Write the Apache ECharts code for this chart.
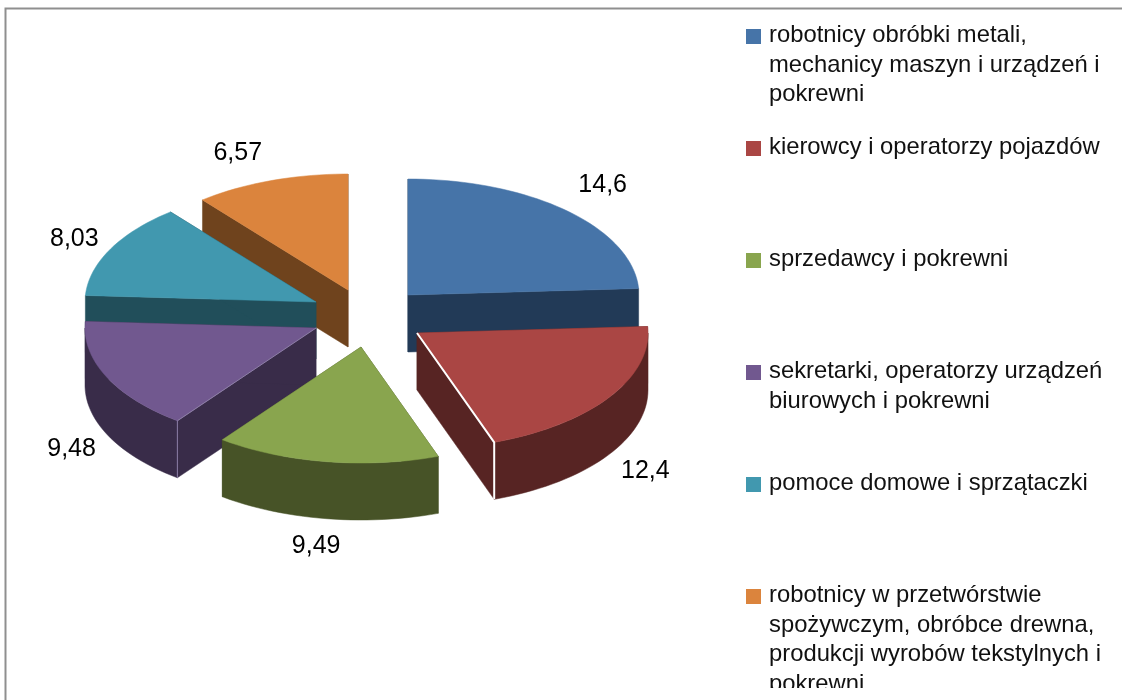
<!DOCTYPE html>
<html>
<head>
<meta charset="utf-8">
<style>
  html, body { margin: 0; padding: 0; background: #fff; }
  #chart { width: 1122px; height: 700px; }
</style>
<script src="https://cdn.jsdelivr.net/npm/echarts@6/dist/echarts.min.js"></script>
</head>
<body>
<div id="chart"></div>
<script>
const categories = [
  'robotnicy obróbki metali,\nmechanicy maszyn i urządzeń i\npokrewni',
  'kierowcy i operatorzy pojazdów',
  'sprzedawcy i pokrewni',
  'sekretarki, operatorzy urządzeń\nbiurowych i pokrewni',
  'pomoce domowe i sprzątaczki',
  'robotnicy w przetwórstwie\nspożywczym, obróbce drewna,\nprodukcji wyrobów tekstylnych i\npokrewni'
]
const values = [14.6, 12.4, 9.49, 9.48, 8.03, 6.57]

// top face and wall colours per slice
const topColors = ['#4674a8', '#aa4644', '#89a54e', '#71588f', '#4198af', '#db843d']
const wallColors = ['#223a57', '#572423', '#475327', '#392c49', '#214e5a', '#6f431d']

// ECharts has no 3D pie, so the tilted slices are drawn by custom series.
// Layout of the tilt and the explosion, in page pixels
const RX = 231
const RY = 116
const DEPTH = 57
const apexes = [[408, 295], [417, 333], [361, 347], [316, 328], [316, 302], [348, 290]]
const labelShift = [[36, -26], [36, 17], [-10, 27], [-35, 15], [-36, -10], [-33, -28]]
const drawOrder = [0, 5, 4, 3, 1, 2] // back to front
// thin light edge on the front corner of two slices: colour, width, which edge
const seams = [null, ['#ffffff', 2, 'end'], null, ['#8d7ea6', 1, 'start'], null, null]

const LINE = 29.5
const LEGEND_TOP = 21
const LEGEND_STEP = 112

const total = values.reduce((a, b) => a + b, 0)
const startOf = i => values.slice(0, i).reduce((a, b) => a + b, 0) / total * 360

const rimPoint = (apex, deg, drop) => {
  const r = deg * Math.PI / 180
  return [apex[0] + RX * Math.sin(r), apex[1] - RY * Math.cos(r) + drop]
}

const arcPoints = (apex, from, to, drop) => {
  const pts = []
  for (let a = from; a < to; a += 2) pts.push(rimPoint(apex, a, drop))
  pts.push(rimPoint(apex, to, drop))
  return pts
}

const poly = (points, fill) => ({
  type: 'polygon',
  shape: { points },
  style: { fill, stroke: fill, lineWidth: 0.5 }
})

const wall = (apex, deg, fill) => {
  const p = rimPoint(apex, deg, 0)
  return poly([apex, p, [p[0], p[1] + DEPTH], [apex[0], apex[1] + DEPTH]], fill)
}

const renderSlice = i => (params, api) => {
  const apex = apexes[i]
  const from = startOf(i)
  const to = from + api.value(0) / total * 360
  const children = [wall(apex, from, wallColors[i]), wall(apex, to, wallColors[i])]

  // outer rim only shows on the front half
  const rimFrom = Math.max(from, 90)
  const rimTo = Math.min(to, 270)
  if (rimFrom < rimTo) {
    const upper = arcPoints(apex, rimFrom, rimTo, 0)
    const lower = arcPoints(apex, rimFrom, rimTo, DEPTH).reverse()
    children.push(poly(upper.concat(lower), wallColors[i]))
  }

  children.push(poly([apex].concat(arcPoints(apex, from, to, 0)), topColors[i]))

  if (seams[i]) {
    const corner = rimPoint(apex, seams[i][2] === 'end' ? to : from, 0)
    children.push({
      type: 'polyline',
      shape: { points: [apex, corner, [corner[0], corner[1] + DEPTH]] },
      style: { fill: 'none', stroke: seams[i][0], lineWidth: seams[i][1] }
    })
  }

  const mid = (from + to) / 2
  const onFront = mid > 90 && mid < 270
  const anchor = rimPoint(apex, mid, onFront ? DEPTH : 0)
  children.push({
    type: 'text',
    x: anchor[0] + labelShift[i][0],
    y: anchor[1] + labelShift[i][1],
    style: {
      text: String(api.value(0)).replace('.', ','),
      font: '25px "Liberation Sans", Arial, sans-serif',
      fill: '#000',
      align: 'center',
      verticalAlign: 'middle'
    }
  })
  return { type: 'group', children }
}

// legend icon sits on the first text line, so its path is as tall as the text block
const legendFor = (name, i) => {
  const h = name.split('\n').length * LINE
  return {
    data: [name],
    left: 746,
    top: LEGEND_TOP + i * LEGEND_STEP,
    padding: 0,
    itemWidth: 15,
    itemHeight: h,
    itemGap: 0,
    selectedMode: false,
    icon: `path://M0 0h15M0 8h15v15h-15zM0 ${h}h15`,
    textStyle: {
      color: '#111',
      fontFamily: '"Liberation Sans", Arial, sans-serif',
      fontSize: 23.8,
      lineHeight: LINE,
      padding: [0, 0, 0, 3]
    }
  }
}

const chart = echarts.init(document.getElementById('chart'), null, { renderer: 'canvas' })
chart.setOption({
  animation: false,
  backgroundColor: '#fff',
  graphic: [
    {
      type: 'rect',
      silent: true,
      shape: { x: 5.5, y: 8.5, width: 1300, height: 900 },
      style: { fill: 'none', stroke: '#8f8f8f', lineWidth: 2 }
    },
    {
      // the source picture cuts the last legend line off here
      type: 'rect',
      silent: true,
      z: 100,
      shape: { x: 730, y: 688, width: 392, height: 12 },
      style: { fill: '#fff' }
    }
  ],
  legend: categories.map(legendFor),
  series: categories.map((name, i) => ({
    name,
    type: 'custom',
    coordinateSystem: 'none',
    silent: true,
    z: 2 + drawOrder.indexOf(i),
    itemStyle: { color: topColors[i] },
    renderItem: renderSlice(i),
    data: [[values[i]]]
  }))
})
</script>
</body>
</html>
